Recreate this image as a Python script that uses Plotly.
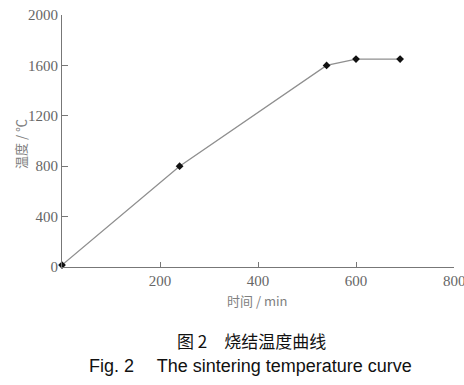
import plotly.graph_objects as go

time_min = [0, 240, 540, 600, 690]
temp_c = [15, 800, 1600, 1650, 1650]
x_ticks = [0, 200, 400, 600, 800]
x_ticklabels = ["", "200", "400", "600", ""]
x_edge_label = "800"
y_ticks = [0, 400, 800, 1200, 1600, 2000]

L, R, T, B = 62, 10, 15, 118
W, H = 464, 385
pw, ph = W - L - R, H - T - B

def px(x):
    return (x - L) / pw

def py(y):
    return (H - B - y) / ph

fig = go.Figure()
fig.add_trace(go.Scatter(
    x=time_min, y=temp_c, mode="lines+markers",
    line=dict(color="#8f8f8f", width=1.3),
    marker=dict(symbol="diamond", size=6, color="#111111"),
    showlegend=False, cliponaxis=False, hoverinfo="skip",
))

serif = "Liberation Serif, Times New Roman, serif"
cjk = "Noto Sans CJK SC, Liberation Serif"
fig.update_layout(
    width=W, height=H,
    margin=dict(l=L, r=R, t=T, b=B, autoexpand=False),
    plot_bgcolor="white", paper_bgcolor="white",
    xaxis=dict(range=[0, 800], tickvals=x_ticks, ticktext=x_ticklabels,
               showgrid=False, zeroline=False, showline=True, automargin=False,
               linecolor="#777777", linewidth=1.2,
               ticks="inside", ticklen=5, tickcolor="#777777",
               tickfont=dict(family=serif, size=15, color="#666666")),
    yaxis=dict(range=[0, 2000], tickvals=y_ticks, automargin=False,
               showgrid=False, zeroline=False, showline=True,
               linecolor="#777777", linewidth=1.2,
               ticks="inside", ticklen=6, tickcolor="#777777",
               tickfont=dict(family=serif, size=15, color="#666666")),
)
fig.add_annotation(text=x_edge_label, x=x_ticks[-1], xref="x", y=py(281), yref="paper",
                   showarrow=False, xanchor="center", yanchor="middle",
                   font=dict(family=serif, size=15, color="#666666"))
fig.add_annotation(text="时间 / min", x=px(257), y=py(300), xref="paper", yref="paper",
                   showarrow=False, yanchor="middle", xanchor="center",
                   font=dict(family=cjk, size=13, color="#808080"))
fig.add_annotation(text="温度 / ℃", x=px(20), y=py(144), xref="paper", yref="paper",
                   showarrow=False, yanchor="middle", xanchor="center", textangle=-90,
                   font=dict(family=cjk, size=13, color="#808080"))
fig.add_annotation(text="图 2　烧结温度曲线", x=px(251), y=py(340),
                   xref="paper", yref="paper", showarrow=False, yanchor="middle", xanchor="center",
                   font=dict(family="Noto Sans CJK SC, Liberation Sans", size=17, color="#111111"))
fig.add_annotation(text="Fig. 2　 The sintering temperature curve", x=px(250), y=py(366),
                   xref="paper", yref="paper", showarrow=False, yanchor="middle", xanchor="center",
                   font=dict(family="Liberation Sans, Arial, sans-serif", size=18, color="#111111"))

fig.write_html("out.html", config={"displayModeBar": False},
               post_script="document.body.style.margin='0';document.body.style.overflow='hidden';")
